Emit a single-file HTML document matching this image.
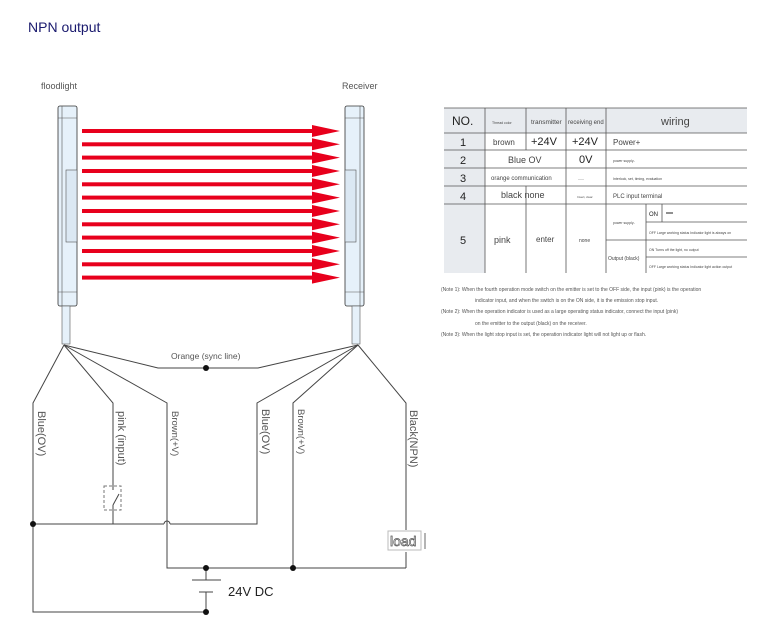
<!DOCTYPE html>
<html><head><style>
body{margin:0;background:#fff;width:773px;height:627px;overflow:hidden;font-family:"Liberation Sans",sans-serif}
</style></head><body>
<svg width="773" height="627" xmlns="http://www.w3.org/2000/svg" font-family="Liberation Sans, sans-serif">
<text x="28" y="32" font-size="14" fill="#1a1a6e">NPN output</text>
<text x="41" y="89" font-size="9" fill="#555">floodlight</text>
<text x="342" y="89" font-size="9" fill="#555">Receiver</text>
<!-- emitter -->
<g stroke="#333" stroke-width="0.8" fill="#e6f1fa">
<rect x="58" y="106" width="19" height="200" rx="2"/>
<rect x="345" y="106" width="19" height="200" rx="2"/>
</g>
<g stroke="#555" stroke-width="0.6" fill="none">
<line x1="58" y1="118" x2="77" y2="118"/><line x1="58" y1="292" x2="77" y2="292"/>
<line x1="62" y1="106" x2="62" y2="306"/>
<rect x="66" y="170" width="11" height="72" fill="#dbe8f3"/>
<line x1="345" y1="118" x2="364" y2="118"/><line x1="345" y1="292" x2="364" y2="292"/>
<line x1="360" y1="106" x2="360" y2="306"/>
<rect x="345" y="170" width="11" height="72" fill="#dbe8f3"/>
<rect x="62" y="306" width="8" height="38" fill="#e6f1fa"/>
<rect x="352" y="306" width="8" height="38" fill="#e6f1fa"/>
</g>
<!-- arrows -->
<g fill="#e8001c" stroke="none">
<g id="a"><rect x="82" y="129" width="232" height="4"/><polygon points="312,125 340,131 312,137"/></g>
<use href="#a" y="13.3"/><use href="#a" y="26.6"/><use href="#a" y="40"/><use href="#a" y="53.3"/><use href="#a" y="66.6"/><use href="#a" y="80"/><use href="#a" y="93.3"/><use href="#a" y="106.6"/><use href="#a" y="120"/><use href="#a" y="133.3"/><use href="#a" y="146.6"/>
</g>
<!-- wiring -->
<g stroke="#444" stroke-width="1" fill="none">
<polyline points="64,345 158,368 258,368 358,345"/>
<polyline points="64,345 33,403 33,612 206,612 206,596"/>
<polyline points="64,345 113,403 113,490"/>
<line x1="113" y1="505" x2="113" y2="524"/>
<polyline points="64,345 167,403 167,568 206,568"/>
<polyline points="358,345 257,403 257,524 170,524"/>
<path d="M170,524 A3,3 0 0 0 164,524"/>
<line x1="164" y1="524" x2="33" y2="524"/>
<polyline points="358,345 293,403 293,568"/>
<polyline points="358,345 406,403 406,530"/>
<line x1="406" y1="552" x2="406" y2="568"/>
<line x1="206" y1="568" x2="406" y2="568"/>
<line x1="206" y1="568" x2="206" y2="580"/>
<line x1="192" y1="580" x2="221" y2="580"/>
<line x1="199" y1="592" x2="213" y2="592"/>
<line x1="206" y1="592" x2="206" y2="612"/>
<rect x="104" y="486" width="17" height="24" stroke-dasharray="3,2" stroke="#777"/>
<line x1="113" y1="505" x2="119" y2="494"/>
<line x1="425" y1="533" x2="425" y2="549" stroke-width="0.8"/>
</g>
<rect x="388" y="531" width="33" height="19" fill="#fff" stroke="#bbb"/>
<text x="390" y="546" font-size="14" fill="#fff" stroke="#555" stroke-width="0.7">load</text>
<g fill="#111"><circle cx="206" cy="368" r="3"/><circle cx="33" cy="524" r="3"/><circle cx="206" cy="568" r="3"/><circle cx="293" cy="568" r="3"/><circle cx="206" cy="612" r="3"/></g>
<text x="171" y="359" font-size="8.5" fill="#555">Orange (sync line)</text>
<text x="228" y="596" font-size="13" fill="#222">24V DC</text>
<g font-size="11" fill="#555">
<text transform="translate(38,411) rotate(90)">Blue(OV)</text>
<text transform="translate(118,411) rotate(90)">pink (input)</text>
<text transform="translate(172,411) rotate(90)" font-size="9.5">Brown(+V)</text>
<text transform="translate(262,409) rotate(90)">Blue(OV)</text>
<text transform="translate(298,409) rotate(90)" font-size="9.5">Brown(+V)</text>
<text transform="translate(410,410) rotate(90)">Black(NPN)</text>
</g>
<!-- table -->
<rect x="444" y="108" width="303" height="25" fill="#e8ebef"/>
<rect x="444" y="133" width="41" height="140" fill="#e8ebef"/>
<g stroke="#555" stroke-width="0.8" fill="none">
<line x1="444" y1="108" x2="747" y2="108"/>
<line x1="444" y1="133" x2="747" y2="133"/>
<line x1="444" y1="150" x2="747" y2="150"/>
<line x1="444" y1="168" x2="747" y2="168"/>
<line x1="444" y1="186" x2="747" y2="186"/>
<line x1="444" y1="204" x2="747" y2="204"/>
<line x1="485" y1="108" x2="485" y2="273"/>
<line x1="526" y1="108" x2="526" y2="150"/><line x1="526" y1="186" x2="526" y2="204"/><line x1="526" y1="204" x2="526" y2="273"/>
<line x1="566" y1="108" x2="566" y2="273"/>
<line x1="606" y1="108" x2="606" y2="273"/>
<line x1="606" y1="240" x2="646" y2="240"/>
<line x1="646" y1="204" x2="646" y2="273"/>
<line x1="662" y1="204" x2="662" y2="222"/>
<line x1="646" y1="222" x2="747" y2="222"/>
<line x1="646" y1="240" x2="747" y2="240"/>
<line x1="646" y1="257" x2="747" y2="257"/>
</g>
<g fill="#444" font-size="11">
<text x="452" y="125" font-size="12" fill="#222">NO.</text>
<text x="492" y="124" font-size="3.5">Thread color</text>
<text x="531" y="124" font-size="6.5">transmitter</text>
<text x="568" y="124" font-size="6">receiving end</text>
<text x="661" y="125" font-size="11">wiring</text>
<text x="460" y="146" fill="#222">1</text><text x="460" y="164" fill="#222">2</text><text x="460" y="182" fill="#222">3</text><text x="460" y="200" fill="#222">4</text><text x="460" y="244" fill="#222">5</text>
<text x="493" y="145" font-size="8">brown</text>
<text x="531" y="145" fill="#222">+24V</text>
<text x="572" y="145" fill="#222">+24V</text>
<text x="613" y="145" font-size="8">Power+</text>
<text x="508" y="163" font-size="9">Blue OV</text>
<text x="579" y="163" fill="#222">0V</text>
<text x="613" y="162" font-size="3.5">power supply-</text>
<text x="491" y="180" font-size="6">orange communication</text>
<text x="578" y="180" font-size="3">——</text>
<text x="613" y="180" font-size="3.5">Interlock, set, timing, evaluation</text>
<text x="501" y="198" font-size="9">black none</text>
<text x="577" y="198" font-size="3">Invert, clear</text>
<text x="613" y="198" font-size="6">PLC input terminal</text>
<text x="494" y="243" font-size="9">pink</text>
<text x="536" y="242" font-size="8">enter</text>
<text x="579" y="242" font-size="5">none</text>
<text x="613" y="224" font-size="3.5">power supply-</text>
<text x="608" y="260" font-size="5">Output (black)</text>
<text x="649" y="216" font-size="6" fill="#222">ON</text>
<line x1="666" y1="213" x2="673" y2="213" stroke="#222"/>
<text x="649" y="234" font-size="3.5">OFF Large working status Indicator light is always on</text>
<text x="649" y="251" font-size="3.5">ON Turns off the light, no output</text>
<text x="649" y="268" font-size="3.5">OFF Large working status Indicator light action output</text>
</g>
<g fill="#555" font-size="5">
<text x="441" y="291">(Note 1): When the fourth operation mode switch on the emitter is set to the OFF side, the input (pink) is the operation</text>
<text x="475" y="302">indicator input, and when the switch is on the ON side, it is the emission stop input.</text>
<text x="441" y="313">(Note 2): When the operation indicator is used as a large operating status indicator, connect the input (pink)</text>
<text x="475" y="325">on the emitter to the output (black) on the receiver.</text>
<text x="441" y="336">(Note 3): When the light stop input is set, the operation indicator light will not light up or flash.</text>
</g>
</svg>
</body></html>
